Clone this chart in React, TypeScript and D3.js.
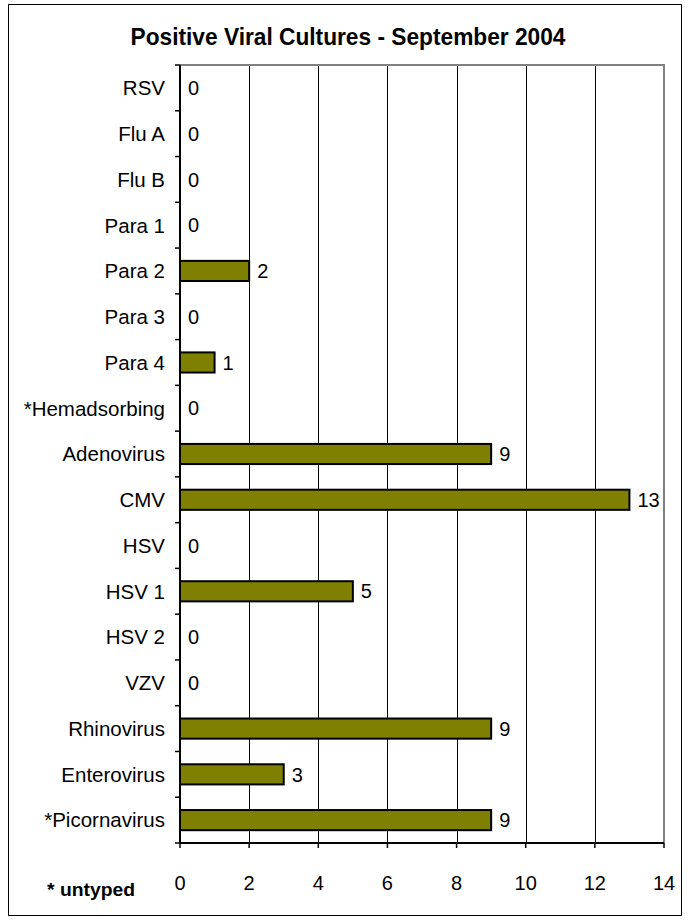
import React, { useEffect, useRef } from 'react';
import * as d3 from 'd3';

// 카테고리와 값
const categories = [
  'RSV', 'Flu A', 'Flu B', 'Para 1', 'Para 2', 'Para 3', 'Para 4', '*Hemadsorbing',
  'Adenovirus', 'CMV', 'HSV', 'HSV 1', 'HSV 2', 'VZV', 'Rhinovirus', 'Enterovirus', '*Picornavirus',
];
const counts = [0, 0, 0, 0, 2, 0, 1, 0, 9, 13, 0, 5, 0, 0, 9, 3, 9];
const xTicks = [0, 2, 4, 6, 8, 10, 12, 14];

const W = 688;
const H = 922;
const FONT = 'Liberation Sans, Arial, sans-serif';

const App: React.FC = () => {
  const ref = useRef<SVGSVGElement>(null);

  useEffect(() => {
    if (!ref.current) return;
    const svg = d3.select(ref.current);
    svg.selectAll('*').remove();

    const rows = categories.map((name, i) => ({ name, value: counts[i] }));

    // 바깥 테두리
    svg.append('rect')
      .attr('x', 8.5).attr('y', 4.5).attr('width', 673).attr('height', 911)
      .attr('fill', '#fff').attr('stroke', '#000').attr('stroke-width', 1);

    svg.append('text')
      .attr('x', 348).attr('y', 45)
      .attr('text-anchor', 'middle')
      .attr('font-family', FONT).attr('font-weight', 'bold').attr('font-size', 24)
      .attr('textLength', 435).attr('lengthAdjust', 'spacingAndGlyphs')
      .text('Positive Viral Cultures - September 2004');

    const left = 180, right = 664, top = 65, bottom = 843;
    const x = d3.scaleLinear().domain([0, 14]).range([left, right]);
    const y = d3.scaleBand().domain(categories).range([top, bottom]).paddingInner(0.56).paddingOuter(0.28);
    const band = (bottom - top) / categories.length;

    // 그리드
    svg.append('g').selectAll('line').data(xTicks.slice(1, -1)).join('line')
      .attr('x1', (d) => Math.round(x(d)) + 0.5).attr('x2', (d) => Math.round(x(d)) + 0.5)
      .attr('y1', top).attr('y2', bottom)
      .attr('stroke', '#000').attr('stroke-width', 1);

    // 플롯 영역 위/오른쪽 회색 테두리
    svg.append('path')
      .attr('d', `M${left},${top}H${right}V${bottom}`)
      .attr('fill', 'none').attr('stroke', '#808080').attr('stroke-width', 2);

    // 막대
    svg.append('g').selectAll('rect').data(rows.filter((r) => r.value > 0)).join('rect')
      .attr('x', left)
      .attr('y', (d) => y(d.name)!)
      .attr('width', (d) => x(d.value) - left)
      .attr('height', y.bandwidth())
      .attr('fill', '#808000').attr('stroke', '#000').attr('stroke-width', 2);

    // 값 레이블
    svg.append('g').selectAll('text').data(rows).join('text')
      .attr('x', (d) => x(d.value) + 8)
      .attr('y', (d) => y(d.name)! + y.bandwidth() / 2)
      .attr('dy', '0.36em')
      .attr('font-family', FONT).attr('font-size', 20)
      .text((d) => d.value);

    // 축
    const yAxisG = svg.append('g');
    yAxisG.append('line').attr('x1', left).attr('x2', left).attr('y1', top).attr('y2', bottom)
      .attr('stroke', '#000').attr('stroke-width', 2);
    yAxisG.selectAll('line.tick').data(d3.range(categories.length + 1)).join('line')
      .attr('class', 'tick')
      .attr('x1', left - 5).attr('x2', left)
      .attr('y1', (i) => top + i * band).attr('y2', (i) => top + i * band)
      .attr('stroke', '#000').attr('stroke-width', 1.5);
    yAxisG.selectAll('text').data(categories).join('text')
      .attr('x', left - 15)
      .attr('y', (d) => y(d)! + y.bandwidth() / 2)
      .attr('dy', '0.36em')
      .attr('text-anchor', 'end')
      .attr('font-family', FONT).attr('font-size', 20.5)
      .text((d) => d);

    const xAxisG = svg.append('g');
    xAxisG.append('line').attr('x1', left).attr('x2', right).attr('y1', bottom).attr('y2', bottom)
      .attr('stroke', '#000').attr('stroke-width', 2);
    xAxisG.selectAll('line.tick').data(xTicks).join('line')
      .attr('class', 'tick')
      .attr('x1', (d) => x(d)).attr('x2', (d) => x(d))
      .attr('y1', bottom).attr('y2', bottom + 5)
      .attr('stroke', '#000').attr('stroke-width', 1.5);
    xAxisG.selectAll('text').data(xTicks).join('text')
      .attr('x', (d) => x(d)).attr('y', 890)
      .attr('text-anchor', 'middle')
      .attr('font-family', FONT).attr('font-size', 20)
      .text((d) => d);

    svg.append('text')
      .attr('x', 47).attr('y', 896)
      .attr('font-family', FONT).attr('font-weight', 'bold').attr('font-size', 19)
      .attr('textLength', 88).attr('lengthAdjust', 'spacingAndGlyphs')
      .text('* untyped');
  }, []);

  return (
    <svg ref={ref} width={W} height={H}
      style={{ position: 'absolute', left: 0, top: 0, background: '#fff' }} />
  );
};

export default App;
